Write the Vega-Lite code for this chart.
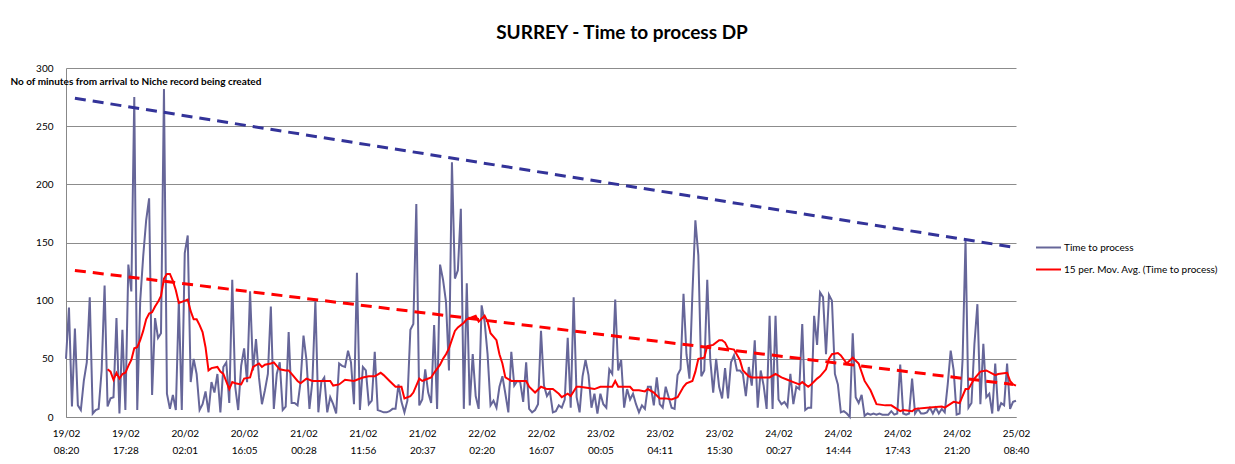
{
 "$schema": "https://vega.github.io/schema/vega-lite/v6.json",
 "width": 950,
 "height": 349,
 "autosize": {"type": "none"},
 "padding": {"left": 66, "top": 68, "right": 219, "bottom": 47},
 "background": "white",
 "config": {"font": "Lato", "view": {"stroke": null}},
 "title": {"text": "SURREY - Time to process DP", "fontSize": 19, "fontWeight": "bold", "font": "Lato", "color": "black", "anchor": "middle", "dx": 81, "offset": 20},
 "datasets": {
  "series": [
{"i":0,"v":50},{"i":1,"v":94},{"i":2,"v":9},{"i":3,"v":76},{"i":4,"v":10},{"i":5,"v":6},{"i":6,"v":31},{"i":7,"v":47},{"i":8,"v":103},{"i":9,"v":3},
{"i":10,"v":6},{"i":11,"v":7},{"i":12,"v":40},{"i":13,"v":113},{"i":14,"v":9},{"i":15,"v":16},{"i":16,"v":17},{"i":17,"v":85},{"i":18,"v":3},{"i":19,"v":75},
{"i":20,"v":6},{"i":21,"v":131},{"i":22,"v":108},{"i":23,"v":275},{"i":24,"v":6},{"i":25,"v":100},{"i":26,"v":138},{"i":27,"v":169},{"i":28,"v":188},{"i":29,"v":19},
{"i":30,"v":85},{"i":31,"v":68},{"i":32,"v":72},{"i":33,"v":282},{"i":34,"v":20},{"i":35,"v":7},{"i":36,"v":19},{"i":37,"v":6},{"i":38,"v":100},{"i":39,"v":6},
{"i":40,"v":141},{"i":41,"v":156},{"i":42,"v":30},{"i":43,"v":50},{"i":44,"v":37},{"i":45,"v":6},{"i":46,"v":11},{"i":47,"v":22},{"i":48,"v":4},{"i":49,"v":30},
{"i":50,"v":21},{"i":51,"v":37},{"i":52,"v":4},{"i":53,"v":43},{"i":54,"v":47},{"i":55,"v":12},{"i":56,"v":118},{"i":57,"v":26},{"i":58,"v":6},{"i":59,"v":44},
{"i":60,"v":59},{"i":61,"v":30},{"i":62,"v":108},{"i":63,"v":40},{"i":64,"v":67},{"i":65,"v":34},{"i":66,"v":11},{"i":67,"v":23},{"i":68,"v":37},{"i":69,"v":95},
{"i":70,"v":7},{"i":71,"v":37},{"i":72,"v":47},{"i":73,"v":6},{"i":74,"v":9},{"i":75,"v":73},{"i":76,"v":12},{"i":77,"v":12},{"i":78,"v":10},{"i":79,"v":30},
{"i":80,"v":70},{"i":81,"v":49},{"i":82,"v":7},{"i":83,"v":31},{"i":84,"v":100},{"i":85,"v":4},{"i":86,"v":30},{"i":87,"v":34},{"i":88,"v":4},{"i":89,"v":17},
{"i":90,"v":11},{"i":91,"v":3},{"i":92,"v":46},{"i":93,"v":44},{"i":94,"v":43},{"i":95,"v":57},{"i":96,"v":47},{"i":97,"v":11},{"i":98,"v":124},{"i":99,"v":6},
{"i":100,"v":43},{"i":101,"v":40},{"i":102,"v":11},{"i":103,"v":14},{"i":104,"v":56},{"i":105,"v":6},{"i":106,"v":5},{"i":107,"v":4},{"i":108,"v":4},{"i":109,"v":5},
{"i":110,"v":7},{"i":111,"v":7},{"i":112,"v":28},{"i":113,"v":13},{"i":114,"v":4},{"i":115,"v":14},{"i":116,"v":75},{"i":117,"v":80},{"i":118,"v":183},
{"i":119,"v":10},{"i":120,"v":15},{"i":121,"v":41},{"i":122,"v":21},{"i":123,"v":12},{"i":124,"v":79},{"i":125,"v":7},{"i":126,"v":131},{"i":127,"v":118},{"i":128,"v":99},
{"i":129,"v":40},{"i":130,"v":219},{"i":131,"v":119},{"i":132,"v":126},{"i":133,"v":179},{"i":134,"v":7},{"i":135,"v":115},{"i":136,"v":10},{"i":137,"v":54},{"i":138,"v":18},
{"i":139,"v":7},{"i":140,"v":96},{"i":141,"v":82},{"i":142,"v":54},{"i":143,"v":10},{"i":144,"v":14},{"i":145,"v":8},{"i":146,"v":26},{"i":147,"v":35},{"i":148,"v":20},
{"i":149,"v":4},{"i":150,"v":56},{"i":151,"v":27},{"i":152,"v":31},{"i":153,"v":30},{"i":154,"v":13},{"i":155,"v":47},{"i":156,"v":7},{"i":157,"v":4},{"i":158,"v":6},
{"i":159,"v":11},{"i":160,"v":74},{"i":161,"v":27},{"i":162,"v":18},{"i":163,"v":22},{"i":164,"v":4},{"i":165,"v":5},{"i":166,"v":10},{"i":167,"v":8},{"i":168,"v":15},
{"i":169,"v":68},{"i":170,"v":8},{"i":171,"v":103},{"i":172,"v":17},{"i":173,"v":4},{"i":174,"v":35},{"i":175,"v":49},{"i":176,"v":36},{"i":177,"v":8},{"i":178,"v":20},
{"i":179,"v":3},{"i":180,"v":20},{"i":181,"v":11},{"i":182,"v":8},{"i":183,"v":41},{"i":184,"v":37},{"i":185,"v":101},{"i":186,"v":40},{"i":187,"v":49},{"i":188,"v":8},
{"i":189,"v":24},{"i":190,"v":15},{"i":191,"v":20},{"i":192,"v":11},{"i":193,"v":4},{"i":194,"v":10},{"i":195,"v":7},{"i":196,"v":26},{"i":197,"v":26},{"i":198,"v":10},
{"i":199,"v":34},{"i":200,"v":11},{"i":201,"v":8},{"i":202,"v":26},{"i":203,"v":17},{"i":204,"v":8},{"i":205,"v":7},{"i":206,"v":36},{"i":207,"v":41},{"i":208,"v":106},
{"i":209,"v":54},{"i":210,"v":33},{"i":211,"v":106},{"i":212,"v":169},{"i":213,"v":139},{"i":214,"v":35},{"i":215,"v":40},{"i":216,"v":118},{"i":217,"v":50},{"i":218,"v":21},
{"i":219,"v":50},{"i":220,"v":26},{"i":221,"v":16},{"i":222,"v":42},{"i":223,"v":16},{"i":224,"v":47},{"i":225,"v":53},{"i":226,"v":40},{"i":227,"v":40},{"i":228,"v":37},
{"i":229,"v":18},{"i":230,"v":43},{"i":231,"v":27},{"i":232,"v":66},{"i":233,"v":8},{"i":234,"v":40},{"i":235,"v":27},{"i":236,"v":7},{"i":237,"v":87},{"i":238,"v":7},
{"i":239,"v":87},{"i":240,"v":15},{"i":241,"v":11},{"i":242,"v":13},{"i":243,"v":9},{"i":244,"v":37},{"i":245,"v":11},{"i":246,"v":26},{"i":247,"v":24},{"i":248,"v":80},
{"i":249,"v":6},{"i":250,"v":8},{"i":251,"v":8},{"i":252,"v":87},{"i":253,"v":62},{"i":254,"v":107},
{"i":255,"v":103},{"i":256,"v":54},{"i":257,"v":105},{"i":258,"v":100},{"i":259,"v":37},{"i":260,"v":28},{"i":261,"v":4},{"i":262,"v":5},{"i":263,"v":3},{"i":264,"v":0},
{"i":265,"v":72},{"i":266,"v":17},{"i":267,"v":12},{"i":268,"v":19},{"i":269,"v":1},{"i":270,"v":3},{"i":271,"v":2},{"i":272,"v":3},{"i":273,"v":2},{"i":274,"v":3},
{"i":275,"v":2},{"i":276,"v":2},{"i":277,"v":2},{"i":278,"v":5},{"i":279,"v":2},{"i":280,"v":3},{"i":281,"v":45},{"i":282,"v":3},{"i":283,"v":2},{"i":284,"v":3},
{"i":285,"v":33},{"i":286,"v":3},{"i":287,"v":7},{"i":288,"v":3},{"i":289,"v":3},{"i":290,"v":4},{"i":291,"v":8},{"i":292,"v":3},{"i":293,"v":8},{"i":294,"v":3},
{"i":295,"v":7},{"i":296,"v":4},{"i":297,"v":28},{"i":298,"v":57},{"i":299,"v":40},{"i":300,"v":2},{"i":301,"v":3},{"i":302,"v":49},{"i":303,"v":152},{"i":304,"v":8},
{"i":305,"v":12},{"i":306,"v":63},{"i":307,"v":97},{"i":308,"v":11},{"i":309,"v":63},{"i":310,"v":17},{"i":311,"v":20},{"i":312,"v":3},{"i":313,"v":46},{"i":314,"v":5},
{"i":315,"v":12},{"i":316,"v":10},{"i":317,"v":46},{"i":318,"v":7},{"i":319,"v":13},{"i":320,"v":14}
  ],
  "ma": [
{"i":14,"v":41},{"i":15,"v":39},{"i":16,"v":32},{"i":17,"v":38},{"i":18,"v":33},{"i":19,"v":37},{"i":20,"v":38},{"i":21,"v":44},{"i":22,"v":49},{"i":23,"v":59},
{"i":24,"v":60},{"i":25,"v":66},{"i":26,"v":74},{"i":27,"v":84},{"i":28,"v":89},{"i":29,"v":90},{"i":30,"v":95},{"i":31,"v":99},{"i":32,"v":104},{"i":33,"v":119},
{"i":34,"v":123},{"i":35,"v":123},{"i":36,"v":117},{"i":37,"v":109},{"i":38,"v":98},{"i":39,"v":99},{"i":41,"v":101},{"i":42,"v":91},{"i":43,"v":84},{"i":44,"v":84},
{"i":45,"v":79},{"i":46,"v":73},{"i":47,"v":60},{"i":48,"v":40},{"i":49,"v":42},{"i":51,"v":43},{"i":52,"v":39},{"i":53,"v":37},{"i":55,"v":24},{"i":56,"v":30},
{"i":57,"v":29},{"i":59,"v":28},{"i":60,"v":33},{"i":62,"v":34},{"i":63,"v":43},{"i":65,"v":46},{"i":66,"v":43},{"i":67,"v":45},{"i":69,"v":46},{"i":70,"v":47},
{"i":72,"v":41},{"i":74,"v":40},{"i":75,"v":40},{"i":76,"v":37},{"i":78,"v":31},{"i":79,"v":29},{"i":81,"v":33},{"i":83,"v":31},{"i":85,"v":31},{"i":87,"v":31},
{"i":89,"v":31},{"i":90,"v":27},{"i":92,"v":28},{"i":94,"v":32},{"i":97,"v":31},{"i":98,"v":32},{"i":100,"v":34},{"i":102,"v":35},{"i":104,"v":35},{"i":106,"v":38},
{"i":107,"v":36},{"i":109,"v":31},{"i":111,"v":26},{"i":113,"v":26},{"i":114,"v":16},{"i":116,"v":18},{"i":117,"v":21},{"i":119,"v":33},{"i":120,"v":31},{"i":121,"v":32},
{"i":123,"v":34},{"i":124,"v":38},{"i":126,"v":45},{"i":127,"v":50},{"i":128,"v":54},{"i":129,"v":59},{"i":131,"v":74},{"i":132,"v":77},{"i":134,"v":81},{"i":135,"v":84},
{"i":137,"v":86},{"i":138,"v":87},{"i":139,"v":82},{"i":141,"v":87},{"i":142,"v":82},{"i":143,"v":72},{"i":145,"v":66},{"i":146,"v":54},{"i":147,"v":46},{"i":148,"v":34},
{"i":150,"v":31},{"i":152,"v":31},{"i":153,"v":31},{"i":155,"v":31},{"i":156,"v":26},{"i":158,"v":21},{"i":160,"v":26},{"i":162,"v":24},{"i":164,"v":24},{"i":166,"v":20},
{"i":167,"v":17},{"i":169,"v":20},{"i":170,"v":18},{"i":172,"v":26},{"i":173,"v":26},{"i":176,"v":25},{"i":178,"v":24},{"i":180,"v":26},{"i":182,"v":26},{"i":184,"v":26},
{"i":185,"v":31},{"i":186,"v":26},{"i":188,"v":26},{"i":190,"v":26},{"i":191,"v":23},{"i":193,"v":23},{"i":195,"v":22},{"i":196,"v":24},{"i":198,"v":21},{"i":200,"v":16},
{"i":202,"v":16},{"i":204,"v":15},{"i":206,"v":17},{"i":208,"v":26},{"i":209,"v":29},{"i":211,"v":31},{"i":212,"v":39},{"i":213,"v":50},{"i":215,"v":51},{"i":216,"v":61},
{"i":218,"v":62},{"i":220,"v":66},{"i":221,"v":66},{"i":222,"v":64},{"i":223,"v":59},{"i":225,"v":58},{"i":227,"v":49},{"i":228,"v":40},{"i":230,"v":35},{"i":231,"v":34},
{"i":233,"v":34},{"i":235,"v":34},{"i":237,"v":34},{"i":239,"v":37},{"i":241,"v":34},{"i":243,"v":32},{"i":245,"v":30},{"i":247,"v":28},{"i":248,"v":30},{"i":250,"v":26},
{"i":251,"v":28},{"i":253,"v":33},{"i":254,"v":35},{"i":256,"v":41},{"i":257,"v":50},{"i":258,"v":54},{"i":260,"v":55},{"i":261,"v":53},{"i":263,"v":46},{"i":265,"v":51},
{"i":267,"v":46},{"i":269,"v":31},{"i":271,"v":23},{"i":273,"v":11},{"i":276,"v":10},{"i":278,"v":10},{"i":281,"v":5},{"i":282,"v":6},{"i":285,"v":5},{"i":286,"v":7},
{"i":290,"v":8},{"i":295,"v":9},{"i":296,"v":8},{"i":299,"v":13},{"i":301,"v":12},{"i":303,"v":24},{"i":304,"v":24},{"i":306,"v":33},{"i":308,"v":39},{"i":310,"v":40},
{"i":313,"v":36},{"i":314,"v":37},{"i":317,"v":38},{"i":318,"v":31},{"i":319,"v":28},{"i":320,"v":27}
  ],
  "upper": [{"i":3,"v":274},{"i":319,"v":146}],
  "lower": [{"i":3,"v":126},{"i":319,"v":28}]
 },
 "layer": [
  {
   "data": {"name": "series"},
   "mark": {"type": "line", "strokeWidth": 2},
   "encoding": {
    "x": {"field": "i", "type": "quantitative",
     "scale": {"domain": [0, 320], "nice": false, "zero": false},
     "axis": {
      "values": [0,20,40,60,80,100,120,140,160,180,200,220,240,260,280,300,320],
      "labelExpr": "split(['19/02 08:20','19/02 17:28','20/02 02:01','20/02 16:05','21/02 00:28','21/02 11:56','21/02 20:37','22/02 02:20','22/02 16:07','23/02 00:05','23/02 04:11','23/02 15:30','24/02 00:27','24/02 14:44','24/02 17:43','24/02 21:20','25/02 08:40'][round(datum.value/20)], ' ')",
      "title": null, "grid": false, "ticks": false, "tickSize": 0,
      "labelPadding": 11, "labelLineHeight": 17, "labelFontSize": 10, "labelColor": "black",
      "labelFlush": false, "labelOverlap": false, "labelBound": false,
      "domainColor": "#888888", "domainWidth": 1
     }},
    "y": {"field": "v", "type": "quantitative",
     "scale": {"domain": [0, 300], "nice": false},
     "axis": {
      "values": [0,50,100,150,200,250,300],
      "title": "No of minutes from arrival to Niche record being created",
      "titleAngle": 0, "titleAlign": "left", "titleBaseline": "middle",
      "titleX": -56, "titleY": 13, "titleFontSize": 10, "titleFontWeight": "bold", "titleColor": "black",
      "labelFontSize": 10, "labelColor": "black", "labelPadding": 13,
      "ticks": false, "tickSize": 0,
      "grid": true, "gridColor": "#8c8c8c", "gridWidth": 1,
      "domainColor": "#888888", "domainWidth": 1
     }},
    "color": {"datum": "Time to process", "type": "nominal",
     "scale": {"domain": ["Time to process", "15 per. Mov. Avg. (Time to process)"], "range": ["#666699", "#ff0000"]},
     "legend": {"orient": "none", "legendX": 969, "legendY": 166, "title": null,
      "symbolType": "stroke", "symbolSize": 625, "symbolStrokeWidth": 2,
      "labelFontSize": 10, "labelColor": "black", "labelOffset": 2, "rowPadding": 3}}
   }
  },
  {
   "data": {"name": "upper"},
   "mark": {"type": "line", "color": "#333399", "strokeWidth": 3, "strokeDash": [11, 7]},
   "encoding": {"x": {"field": "i", "type": "quantitative"}, "y": {"field": "v", "type": "quantitative"}}
  },
  {
   "data": {"name": "lower"},
   "mark": {"type": "line", "color": "#ff0000", "strokeWidth": 3, "strokeDash": [11, 7]},
   "encoding": {"x": {"field": "i", "type": "quantitative"}, "y": {"field": "v", "type": "quantitative"}}
  },
  {
   "data": {"name": "ma"},
   "mark": {"type": "line", "strokeWidth": 2},
   "encoding": {"x": {"field": "i", "type": "quantitative"}, "y": {"field": "v", "type": "quantitative"},
    "color": {"datum": "15 per. Mov. Avg. (Time to process)", "type": "nominal"}}
  }
 ]
}
